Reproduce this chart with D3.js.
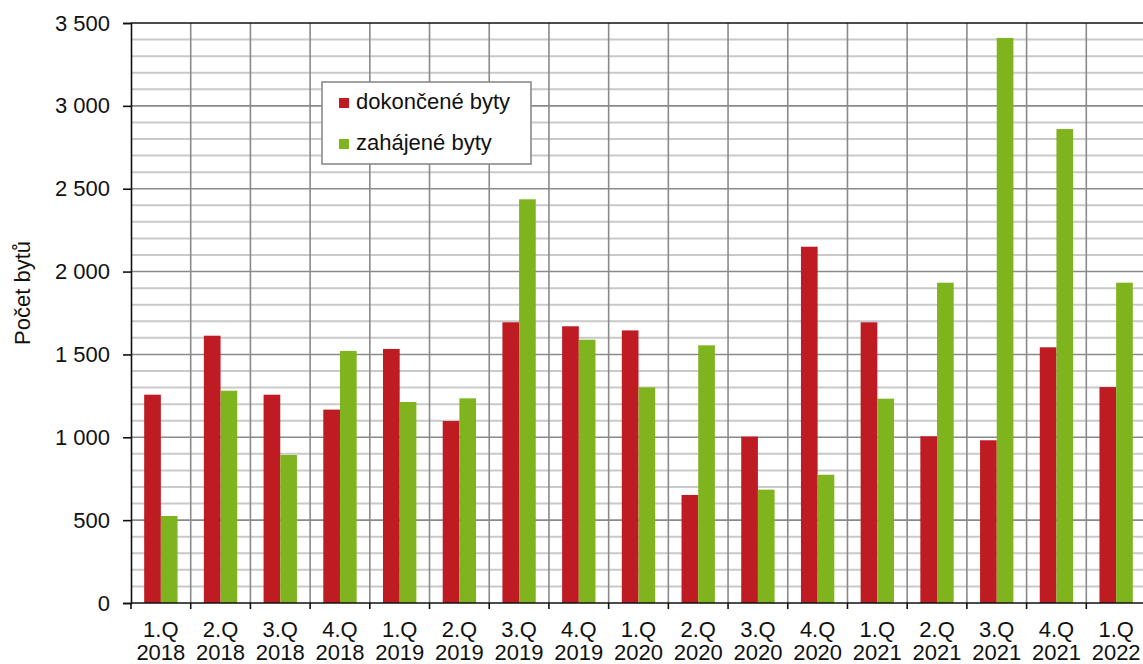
<!DOCTYPE html>
<html>
<head>
<meta charset="utf-8">
<script src="https://cdn.jsdelivr.net/npm/d3@7"></script>
<style>
  body { margin: 0; background: #fff; }
  text { font-family: Arial, "Liberation Sans", sans-serif; fill: #111; }
</style>
</head>
<body>
<svg id="chart" width="1143" height="664"></svg>
<script>
const quarters = ['1.Q', '2.Q', '3.Q', '4.Q', '1.Q', '2.Q', '3.Q', '4.Q', '1.Q', '2.Q', '3.Q', '4.Q', '1.Q', '2.Q', '3.Q', '4.Q', '1.Q']
const years = ['2018', '2018', '2018', '2018', '2019', '2019', '2019', '2019', '2020', '2020', '2020', '2020', '2021', '2021', '2021', '2021', '2022']
const dokoncene = [1257, 1613, 1257, 1167, 1533, 1098, 1694, 1670, 1645, 652, 1004, 2150, 1694, 1006, 982, 1543, 1303]
const zahajene = [525, 1281, 893, 1521, 1213, 1235, 2436, 1589, 1301, 1555, 684, 774, 1233, 1933, 3410, 2860, 1933]
const seriesNames = ['dokončené byty', 'zahájené byty']
const yTicks = [0, 500, 1000, 1500, 2000, 2500, 3000, 3500]

const colors = ['#be1b23', '#7fb41f']

const svg = d3.select('#chart')
const plotLeft = 131
const plotRight = 1146
const plotTop = 23
const plotBottom = 603

const cats = quarters.map((q, i) => i)
const series = [dokoncene, zahajene]

const x0 = d3.scaleBand().domain(cats).range([plotLeft, plotRight]).padding(0)
const x1 = d3.scaleBand().domain([0, 1]).range([0, x0.bandwidth()]).paddingInner(0).paddingOuter(0.79)
const y = d3.scaleLinear().domain([0, 3500]).range([plotBottom, plotTop])

// minor grid every 100
const grid = svg.append('g')
grid.selectAll('line.minor')
    .data(d3.range(100, 3500, 100).filter(v => v % 500 !== 0))
    .enter().append('line')
    .attr('x1', plotLeft).attr('x2', plotRight)
    .attr('y1', d => y(d)).attr('y2', d => y(d))
    .attr('stroke', '#c9c9c9')
    .attr('stroke-width', 2)

grid.selectAll('line.major')
    .data(yTicks.filter(v => v > 0 && v < 3500))
    .enter().append('line')
    .attr('x1', plotLeft).attr('x2', plotRight)
    .attr('y1', d => y(d)).attr('y2', d => y(d))
    .attr('stroke', '#8a8a8a')
    .attr('stroke-width', 1.6)

grid.selectAll('line.vert')
    .data(cats.slice(1))
    .enter().append('line')
    .attr('x1', d => x0(d)).attr('x2', d => x0(d))
    .attr('y1', plotTop).attr('y2', plotBottom)
    .attr('stroke', '#8a8a8a')
    .attr('stroke-width', 1.6)

// bars
const groups = svg.append('g').selectAll('g')
    .data(cats)
    .enter().append('g')
    .attr('transform', d => `translate(${x0(d)},0)`)

groups.selectAll('rect')
    .data(d => series.map((s, k) => ({ k, v: s[d] })))
    .enter().append('rect')
    .attr('x', d => x1(d.k))
    .attr('width', x1.bandwidth())
    .attr('y', d => y(d.v))
    .attr('height', d => y(0) - y(d.v))
    .attr('fill', d => colors[d.k])

// top border
svg.append('line')
    .attr('x1', plotLeft).attr('x2', plotRight)
    .attr('y1', plotTop).attr('y2', plotTop)
    .attr('stroke', '#111')
    .attr('stroke-width', 1.6)

// y axis
const yAxis = svg.append('g')
    .attr('transform', `translate(${plotLeft},0)`)
    .call(d3.axisLeft(y).tickValues(yTicks).tickSize(8).tickPadding(13)
        .tickFormat(d => d3.format(',')(d).replace(',', ' ')))
yAxis.select('.domain').attr('stroke', '#111').attr('stroke-width', 1.6)
yAxis.selectAll('.tick line').attr('stroke', '#111').attr('stroke-width', 1.6)
yAxis.selectAll('text').style('font-size', '22px').attr('fill', '#111')

// x axis
const xAxis = svg.append('g')
    .attr('transform', `translate(0,${plotBottom})`)
xAxis.append('line')
    .attr('x1', plotLeft).attr('x2', plotRight)
    .attr('stroke', '#111').attr('stroke-width', 1.6)
xAxis.selectAll('line.tk')
    .data(cats)
    .enter().append('line')
    .attr('x1', d => x0(d)).attr('x2', d => x0(d))
    .attr('y1', 0).attr('y2', 6)
    .attr('stroke', '#111').attr('stroke-width', 1.6)

const xl = xAxis.selectAll('text.lab')
    .data(cats)
    .enter().append('text')
    .attr('text-anchor', 'middle')
    .style('font-size', '22px')
xl.append('tspan')
    .attr('x', d => x0(d) + x0.bandwidth() / 2)
    .attr('y', 34)
    .text(d => quarters[d])
xl.append('tspan')
    .attr('x', d => x0(d) + x0.bandwidth() / 2)
    .attr('y', 57)
    .text(d => years[d])

// y title
svg.append('text')
    .attr('transform', 'translate(30,293) rotate(-90)')
    .attr('text-anchor', 'middle')
    .style('font-size', '22px')
    .text('Počet bytů')

// legend
const legend = svg.append('g')
legend.append('rect')
    .attr('x', 322).attr('y', 82)
    .attr('width', 209).attr('height', 82)
    .attr('fill', '#fff')
    .attr('stroke', '#8a8a8a')
    .attr('stroke-width', 1.6)

const li = legend.selectAll('g.item')
    .data(seriesNames)
    .enter().append('g')
    .attr('transform', (d, i) => `translate(339,${98 + i * 41})`)
li.append('rect')
    .attr('width', 10).attr('height', 10)
    .attr('fill', (d, i) => colors[i])
li.append('text')
    .attr('x', 17).attr('y', 11)
    .style('font-size', '22px')
    .text(d => d)
</script>
</body>
</html>
